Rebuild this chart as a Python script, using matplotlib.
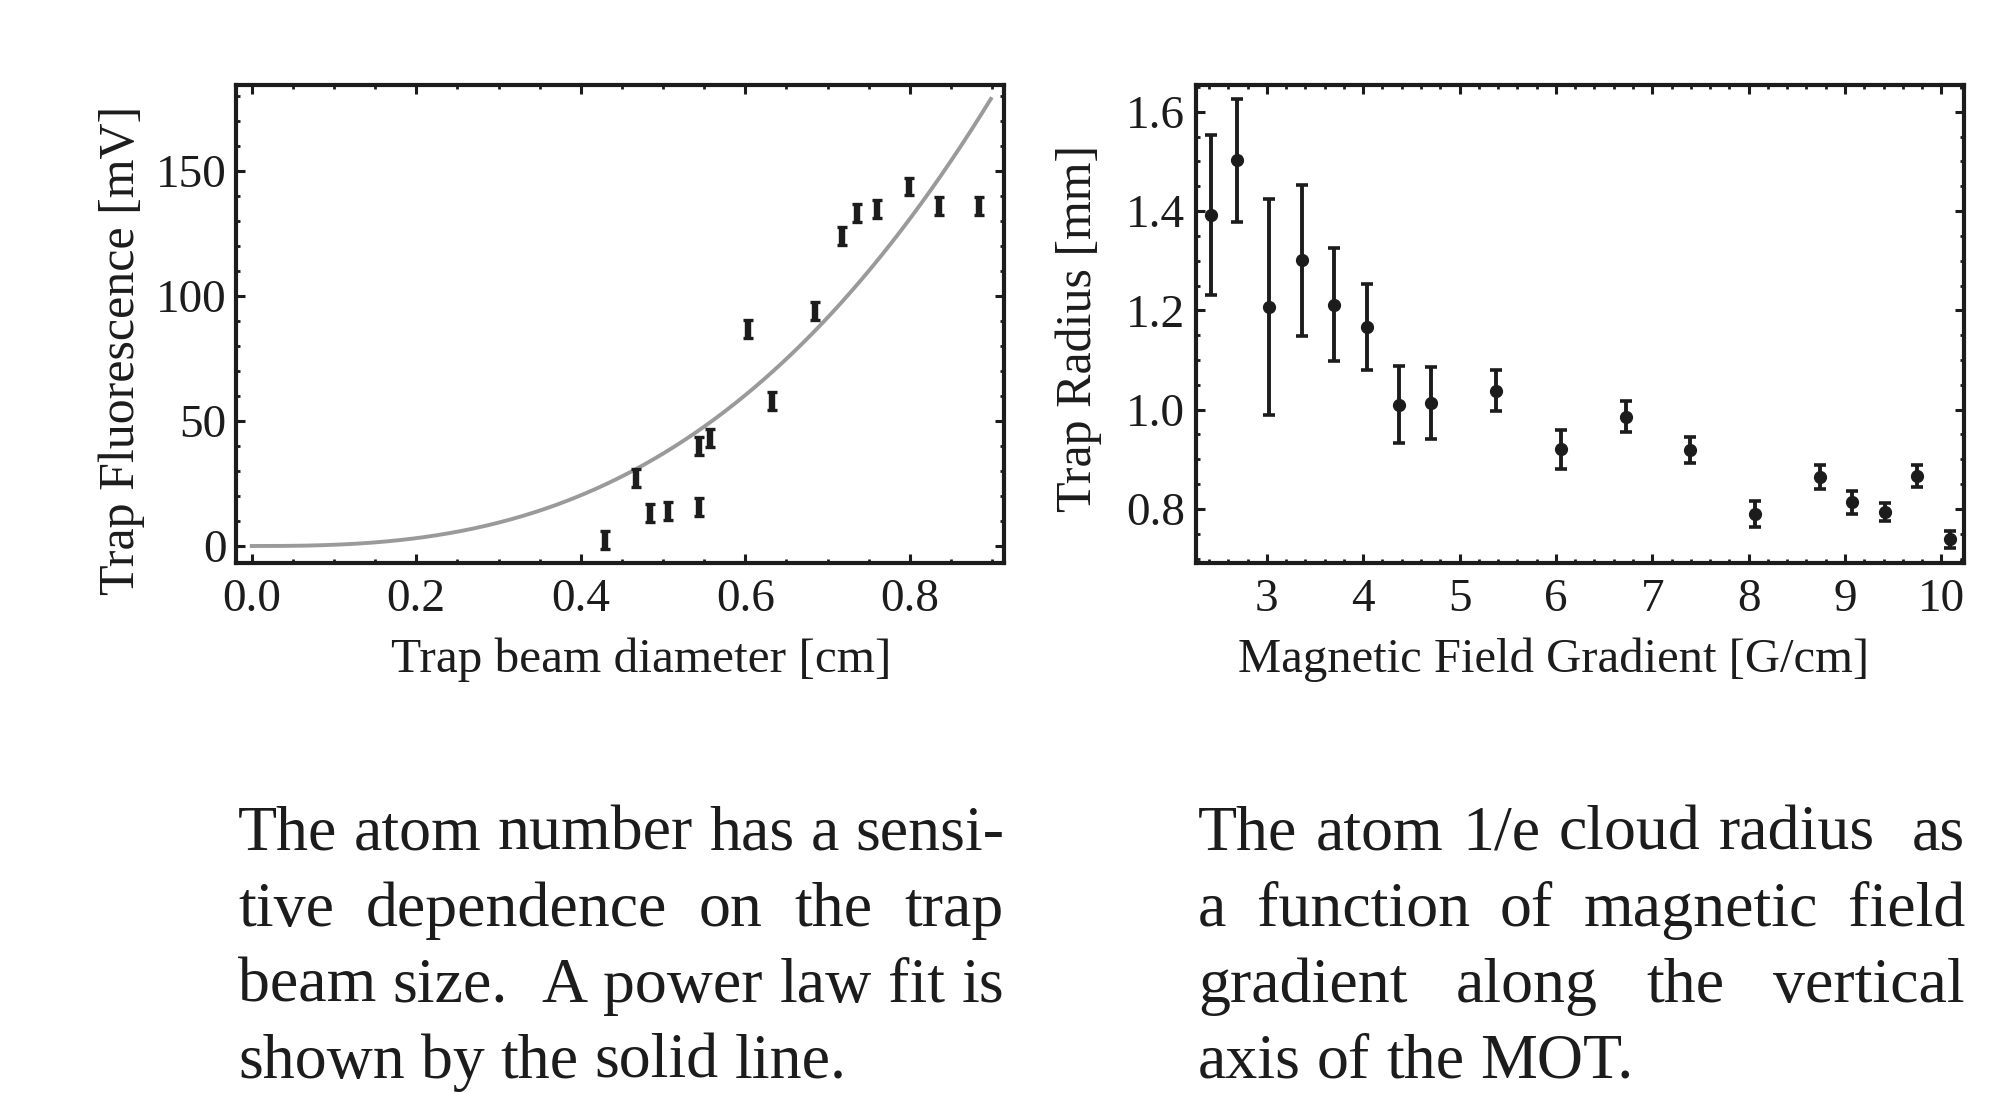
import re
import numpy as np
import matplotlib
matplotlib.use("Agg")
import matplotlib.pyplot as plt
from matplotlib.ticker import MultipleLocator, FormatStrFormatter

# ---------------- data ----------------
beam_diameter_cm = [0.430, 0.467, 0.484, 0.506, 0.544, 0.544, 0.557, 0.603,
                    0.633, 0.685, 0.717, 0.736, 0.760, 0.799, 0.836, 0.884]
fluorescence_mV = [2.4, 27.2, 13.1, 13.9, 15.8, 40.0, 43.1, 86.7,
                   58.1, 94.1, 124.1, 133.3, 134.7, 143.8, 136.0, 136.0]
fluorescence_err = [3.6] * 16

# power-law fit  F = A * d**N
FIT_A = 238.5
FIT_N = 2.69
FIT_XMAX = 0.8985

gradient_G_cm = [2.421, 2.689, 3.025, 3.361, 3.697, 4.040, 4.370, 4.706, 5.379,
                 6.051, 6.724, 7.396, 8.069, 8.741, 9.077, 9.410, 9.750, 10.086]
radius_mm = [1.392, 1.502, 1.207, 1.301, 1.211, 1.166, 1.010, 1.013, 1.038,
             0.920, 0.986, 0.919, 0.790, 0.864, 0.813, 0.793, 0.867, 0.739]
radius_err = [0.162, 0.124, 0.218, 0.152, 0.114, 0.087, 0.077, 0.073, 0.041,
              0.039, 0.032, 0.026, 0.026, 0.024, 0.023, 0.018, 0.022, 0.017]

left_caption = ["The atom number has a sensi-",
                "tive dependence on the trap",
                "beam size.  A power law fit is",
                "shown by the solid line."]
right_caption = ["The atom 1/e cloud radius  as",
                 "a function of magnetic field",
                 "gradient along the vertical",
                 "axis of the MOT."]

# ---------------- style ----------------
FONT = ["Liberation Serif", "DejaVu Serif"]
plt.rcParams["font.family"] = FONT
INK = "#1c1c1c"
W, H = 2015, 1093
DPI = 100

fig = plt.figure(figsize=(W / DPI, H / DPI), dpi=DPI)


def rect(x0, y0, x1, y1):
    return [x0 / W, 1 - y1 / H, (x1 - x0) / W, (y1 - y0) / H]


def fx(x):
    return x / W


def fy(y):
    return 1 - y / H


def style_axes(ax, xmaj, xmin, ymaj, ymin, ypad):
    for s in ax.spines.values():
        s.set_linewidth(3.0)
        s.set_color(INK)
    ax.xaxis.set_major_locator(MultipleLocator(xmaj))
    ax.xaxis.set_minor_locator(MultipleLocator(xmin))
    ax.yaxis.set_major_locator(MultipleLocator(ymaj))
    ax.yaxis.set_minor_locator(MultipleLocator(ymin))
    ax.tick_params(which="both", direction="in", top=True, right=True,
                   color=INK, labelcolor=INK, labelsize=34)
    ax.tick_params(which="major", length=6.5, width=2.2)
    ax.tick_params(which="minor", length=3.2, width=2.0)
    ax.tick_params(axis="x", which="major", pad=11)
    ax.tick_params(axis="y", which="major", pad=ypad)


# ---------------- left panel ----------------
ax1 = fig.add_axes(rect(236, 85, 1004, 563))
xs = np.linspace(0, FIT_XMAX, 300)
ax1.plot(xs, FIT_A * xs ** FIT_N, color="#9a9a9a", lw=2.8, zorder=2)
ax1.errorbar(beam_diameter_cm, fluorescence_mV, yerr=fluorescence_err,
             fmt="none", ecolor=INK, elinewidth=4.6, capsize=3.9,
             capthick=2.4, zorder=3)
ax1.set_xlim(-0.0192, 0.9145)
ax1.set_ylim(-6.8, 184.4)
style_axes(ax1, 0.2, 0.05, 50, 10, 7)
ax1.xaxis.set_major_formatter(FormatStrFormatter("%.1f"))

fig.text(fx(122), fy(350), "Trap Fluorescence [mV]", rotation=90,
         ha="center", va="center", fontsize=36, color=INK)
fig.text(fx(641), fy(672), "Trap beam diameter [cm]",
         ha="center", va="baseline", fontsize=35.5, color=INK)

# ---------------- right panel ----------------
ax2 = fig.add_axes(rect(1196, 85, 1964, 563))
ax2.errorbar(gradient_G_cm, radius_mm, yerr=radius_err, fmt="o",
             color=INK, ms=8.5, ecolor=INK, elinewidth=2.8, capsize=4.0,
             capthick=2.6, zorder=3)
ax2.set_xlim(2.265, 10.235)
ax2.set_ylim(0.691, 1.654)
style_axes(ax2, 1, 0.2, 0.2, 0.05, 8)
ax2.yaxis.set_major_formatter(FormatStrFormatter("%.1f"))

fig.text(fx(1079), fy(328), "Trap Radius [mm]", rotation=90,
         ha="center", va="center", fontsize=36, color=INK)
fig.text(fx(1554), fy(672), "Magnetic Field Gradient [G/cm]",
         ha="center", va="baseline", fontsize=35, color=INK)

# ---------------- justified captions ----------------
CAP_FS = 46
renderer = fig.canvas.get_renderer()


def justified(lines, x0, x1, baselines):
    space_px = 0.25 * CAP_FS * DPI / 72.0
    for i, (line, yb) in enumerate(zip(lines, baselines)):
        parts = re.split(r"( +)", line.strip())
        words = parts[0::2]
        weights = [len(s) for s in parts[1::2]]
        texts = []
        widths = []
        for w in words:
            t = fig.text(0, fy(yb), w, ha="left", va="baseline",
                         fontsize=CAP_FS, color=INK)
            texts.append(t)
            widths.append(t.get_window_extent(renderer).width)
        last = i == len(lines) - 1
        if last or not weights:
            gaps = [space_px * wt for wt in weights]
        else:
            g = (x1 - x0 - sum(widths)) / sum(weights)
            gaps = [g * wt for wt in weights]
        x = x0
        for k, t in enumerate(texts):
            t.set_x(fx(x))
            x += widths[k]
            if k < len(gaps):
                x += gaps[k]


justified(left_caption, 238, 1004, [850, 926, 1002, 1078])
justified(right_caption, 1198, 1965, [850, 926, 1002, 1078])

fig.savefig("out.png", dpi=DPI)
